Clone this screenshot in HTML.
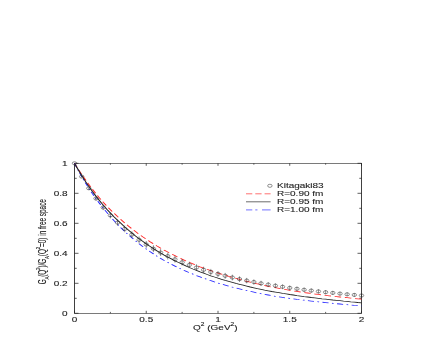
<!DOCTYPE html><html><head><meta charset="utf-8"><title>plot</title><style>html,body{margin:0;padding:0;background:#fff}svg{display:block;will-change:transform}text{font-family:"Liberation Sans",sans-serif;fill:#222;stroke:#222;stroke-width:0.1px}</style></head><body>
<svg width="436" height="354" viewBox="0 0 436 354">
<rect width="436" height="354" fill="#fff"/>
<g transform="scale(1.43,1)" fill="none">
<rect x="52.10" y="163.3" width="200.70" height="150.0" stroke="#222" stroke-width="0.6"/>
<path d="M52.10,313.3 v-2.5 M52.10,163.3 v2.5 M77.19,313.3 v-1.4 M77.19,163.3 v1.4 M102.27,313.3 v-2.5 M102.27,163.3 v2.5 M127.36,313.3 v-1.4 M127.36,163.3 v1.4 M152.45,313.3 v-2.5 M152.45,163.3 v2.5 M177.53,313.3 v-1.4 M177.53,163.3 v1.4 M202.62,313.3 v-2.5 M202.62,163.3 v2.5 M227.71,313.3 v-1.4 M227.71,163.3 v1.4 M252.80,313.3 v-2.5 M252.80,163.3 v2.5 M52.10,163.30 h2.80 M252.80,163.30 h-2.80 M52.10,178.30 h1.54 M252.80,178.30 h-1.54 M52.10,193.30 h2.80 M252.80,193.30 h-2.80 M52.10,208.30 h1.54 M252.80,208.30 h-1.54 M52.10,223.30 h2.80 M252.80,223.30 h-2.80 M52.10,238.30 h1.54 M252.80,238.30 h-1.54 M52.10,253.30 h2.80 M252.80,253.30 h-2.80 M52.10,268.30 h1.54 M252.80,268.30 h-1.54 M52.10,283.30 h2.80 M252.80,283.30 h-2.80 M52.10,298.30 h1.54 M252.80,298.30 h-1.54 M52.10,313.30 h2.80 M252.80,313.30 h-2.80" stroke="#222" stroke-width="0.6"/>
<path d="M52.10,163.3 L54.61,169.0 L57.12,174.4 L59.62,179.5 L62.13,184.5 L64.64,189.3 L67.15,193.8 L69.66,198.1 L72.17,202.2 L74.68,206.1 L77.19,209.7 L79.69,213.2 L82.20,216.6 L84.71,219.8 L87.22,222.9 L89.73,225.9 L92.24,228.8 L94.75,231.6 L97.26,234.3 L99.76,236.8 L102.27,239.2 L104.78,241.6 L107.29,243.8 L109.80,246.0 L112.31,248.1 L114.82,250.1 L117.33,252.0 L119.83,253.9 L122.34,255.7 L124.85,257.5 L127.36,259.2 L129.87,260.8 L132.38,262.4 L134.89,263.9 L137.40,265.4 L139.90,266.8 L142.41,268.1 L144.92,269.4 L147.43,270.7 L149.94,271.9 L152.45,273.1 L154.96,274.2 L157.47,275.3 L159.97,276.4 L162.48,277.4 L164.99,278.4 L167.50,279.4 L170.01,280.4 L172.52,281.3 L175.03,282.2 L177.53,283.1 L180.04,283.9 L182.55,284.7 L185.06,285.5 L187.57,286.3 L190.08,287.0 L192.59,287.7 L195.10,288.4 L197.60,289.1 L200.11,289.7 L202.62,290.3 L205.13,290.9 L207.64,291.4 L210.15,292.0 L212.66,292.5 L215.17,293.0 L217.67,293.5 L220.18,294.0 L222.69,294.4 L225.20,294.9 L227.71,295.3 L230.22,295.8 L232.73,296.2 L235.24,296.6 L237.74,297.0 L240.25,297.4 L242.76,297.7 L245.27,298.1 L247.78,298.5 L250.29,298.8 L252.80,299.2" stroke="#ff2a2a" stroke-width="0.8" stroke-dasharray="4.6,2.6"/>
<path d="M52.10,163.3 L54.61,170.1 L57.12,176.5 L59.62,182.6 L62.13,188.3 L64.64,193.7 L67.15,198.8 L69.66,203.5 L72.17,208.1 L74.68,212.4 L77.19,216.6 L79.69,220.6 L82.20,224.3 L84.71,228.0 L87.22,231.4 L89.73,234.7 L92.24,237.8 L94.75,240.8 L97.26,243.7 L99.76,246.4 L102.27,249.0 L104.78,251.5 L107.29,253.9 L109.80,256.2 L112.31,258.4 L114.82,260.5 L117.33,262.4 L119.83,264.3 L122.34,266.1 L124.85,267.9 L127.36,269.5 L129.87,271.1 L132.38,272.7 L134.89,274.1 L137.40,275.6 L139.90,276.9 L142.41,278.2 L144.92,279.5 L147.43,280.7 L149.94,281.9 L152.45,283.0 L154.96,284.1 L157.47,285.1 L159.97,286.1 L162.48,287.1 L164.99,288.0 L167.50,288.9 L170.01,289.8 L172.52,290.6 L175.03,291.4 L177.53,292.2 L180.04,293.0 L182.55,293.7 L185.06,294.4 L187.57,295.0 L190.08,295.7 L192.59,296.3 L195.10,296.9 L197.60,297.4 L200.11,298.0 L202.62,298.4 L205.13,298.9 L207.64,299.4 L210.15,299.8 L212.66,300.2 L215.17,300.7 L217.67,301.1 L220.18,301.5 L222.69,301.8 L225.20,302.2 L227.71,302.6 L230.22,303.0 L232.73,303.3 L235.24,303.7 L237.74,304.0 L240.25,304.4 L242.76,304.7 L245.27,305.0 L247.78,305.4 L250.29,305.7 L252.80,306.0" stroke="#2a2aff" stroke-width="0.8" stroke-dasharray="4.3,2.4,1.2,2.4"/>
<path d="M52.10,163.3 L54.61,169.5 L57.12,175.4 L59.62,181.1 L62.13,186.4 L64.64,191.5 L67.15,196.3 L69.66,200.8 L72.17,205.1 L74.68,209.2 L77.19,213.0 L79.69,216.7 L82.20,220.2 L84.71,223.6 L87.22,226.9 L89.73,230.0 L92.24,233.0 L94.75,235.9 L97.26,238.7 L99.76,241.3 L102.27,243.9 L104.78,246.3 L107.29,248.6 L109.80,250.9 L112.31,253.0 L114.82,255.1 L117.33,257.0 L119.83,258.9 L122.34,260.8 L124.85,262.5 L127.36,264.2 L129.87,265.9 L132.38,267.5 L134.89,269.0 L137.40,270.4 L139.90,271.9 L142.41,273.2 L144.92,274.5 L147.43,275.8 L149.94,277.0 L152.45,278.2 L154.96,279.3 L157.47,280.4 L159.97,281.4 L162.48,282.4 L164.99,283.4 L167.50,284.3 L170.01,285.2 L172.52,286.1 L175.03,287.0 L177.53,287.8 L180.04,288.6 L182.55,289.3 L185.06,290.1 L187.57,290.8 L190.08,291.5 L192.59,292.1 L195.10,292.7 L197.60,293.4 L200.11,293.9 L202.62,294.5 L205.13,295.0 L207.64,295.6 L210.15,296.1 L212.66,296.6 L215.17,297.0 L217.67,297.5 L220.18,297.9 L222.69,298.3 L225.20,298.8 L227.71,299.2 L230.22,299.6 L232.73,300.0 L235.24,300.3 L237.74,300.7 L240.25,301.1 L242.76,301.4 L245.27,301.8 L247.78,302.1 L250.29,302.5 L252.80,302.8" stroke="#222" stroke-width="0.8"/>
<g stroke="#333" stroke-width="0.45"><circle cx="52.10" cy="163.3" r="1.55"/><circle cx="57.12" cy="176.6" r="1.55"/><circle cx="62.13" cy="188.3" r="1.55"/><circle cx="67.15" cy="198.5" r="1.55"/><circle cx="72.17" cy="207.5" r="1.55"/><circle cx="77.19" cy="215.4" r="1.55"/><circle cx="82.20" cy="222.6" r="1.55"/><circle cx="87.22" cy="228.9" r="1.55"/><circle cx="92.24" cy="234.6" r="1.55"/><circle cx="97.26" cy="239.8" r="1.55"/><circle cx="102.27" cy="244.5" r="1.55"/><circle cx="107.29" cy="248.7" r="1.55"/><circle cx="112.31" cy="252.6" r="1.55"/><circle cx="117.33" cy="256.1" r="1.55"/><circle cx="122.34" cy="259.3" r="1.55"/><circle cx="127.36" cy="262.3" r="1.55"/><circle cx="132.38" cy="265.0" r="1.55"/><circle cx="137.40" cy="267.5" r="1.55"/><circle cx="142.41" cy="269.8" r="1.55"/><circle cx="147.43" cy="272.0" r="1.55"/><circle cx="152.45" cy="273.9" r="1.55"/><circle cx="157.47" cy="275.8" r="1.55"/><circle cx="162.48" cy="277.5" r="1.55"/><circle cx="167.50" cy="279.1" r="1.55"/><circle cx="172.52" cy="280.6" r="1.55"/><circle cx="177.53" cy="282.0" r="1.55"/><circle cx="182.55" cy="283.4" r="1.55"/><circle cx="187.57" cy="284.6" r="1.55"/><circle cx="192.59" cy="285.7" r="1.55"/><circle cx="197.60" cy="286.8" r="1.55"/><circle cx="202.62" cy="287.9" r="1.55"/><circle cx="207.64" cy="288.8" r="1.55"/><circle cx="212.66" cy="289.8" r="1.55"/><circle cx="217.67" cy="290.6" r="1.55"/><circle cx="222.69" cy="291.4" r="1.55"/><circle cx="227.71" cy="292.2" r="1.55"/><circle cx="232.73" cy="292.9" r="1.55"/><circle cx="237.74" cy="293.6" r="1.55"/><circle cx="242.76" cy="294.3" r="1.55"/><circle cx="247.78" cy="294.9" r="1.55"/><circle cx="252.80" cy="295.5" r="1.55"/></g>
<path d="M57.12,175.7 v1.9 M62.13,186.6 v3.4 M67.15,196.2 v4.5 M72.17,204.8 v5.3 M77.19,212.5 v5.9 M82.20,219.4 v6.3 M87.22,225.6 v6.6 M92.24,231.3 v6.8 M97.26,236.4 v6.9 M102.27,241.0 v6.9 M107.29,245.2 v6.9 M112.31,249.1 v6.9 M117.33,252.7 v6.8 M122.34,255.9 v6.7 M127.36,258.9 v6.6 M132.38,261.7 v6.5 M137.40,264.3 v6.4 M142.41,266.7 v6.3 M147.43,268.9 v6.1 M152.45,271.0 v6.0 M157.47,272.9 v5.9 M162.48,274.7 v5.7 M167.50,276.3 v5.6 M172.52,277.9 v5.4 M177.53,279.4 v5.3 M182.55,280.8 v5.2 M187.57,282.1 v5.0 M192.59,283.3 v4.9 M197.60,284.4 v4.8 M202.62,285.5 v4.7 M207.64,286.6 v4.6 M212.66,287.5 v4.4 M217.67,288.4 v4.3 M222.69,289.3 v4.2 M227.71,290.1 v4.1 M232.73,290.9 v4.0 M237.74,291.7 v3.9 M242.76,292.4 v3.8 M247.78,293.1 v3.7 M252.80,293.7 v3.6" stroke="#222" stroke-width="0.4"/>
<circle cx="188.74" cy="185.8" r="1.55" stroke="#333" stroke-width="0.45"/>
<path d="M172.03,193.8 H189.23" stroke="#ff2a2a" stroke-width="0.55" stroke-dasharray="4.4,2.1"/>
<path d="M172.03,201.8 H189.23" stroke="#222" stroke-width="0.55"/>
<path d="M172.03,209.9 H189.23" stroke="#2a2aff" stroke-width="0.55" stroke-dasharray="4.4,2.1,1.5,3.2,6,2"/>
</g>
<text transform="translate(74.5,322.1) scale(1.43,1)" text-anchor="middle" font-size="7">0</text>
<text transform="translate(146.25,322.1) scale(1.43,1)" text-anchor="middle" font-size="7">0.5</text>
<text transform="translate(218.0,322.1) scale(1.43,1)" text-anchor="middle" font-size="7">1</text>
<text transform="translate(289.75,322.1) scale(1.43,1)" text-anchor="middle" font-size="7">1.5</text>
<text transform="translate(361.5,322.1) scale(1.43,1)" text-anchor="middle" font-size="7">2</text>
<text transform="translate(67.6,165.8) scale(1.43,1)" text-anchor="end" font-size="7">1</text>
<text transform="translate(67.6,195.8) scale(1.43,1)" text-anchor="end" font-size="7">0.8</text>
<text transform="translate(67.6,225.8) scale(1.43,1)" text-anchor="end" font-size="7">0.6</text>
<text transform="translate(67.6,255.8) scale(1.43,1)" text-anchor="end" font-size="7">0.4</text>
<text transform="translate(67.6,285.8) scale(1.43,1)" text-anchor="end" font-size="7">0.2</text>
<text transform="translate(67.6,315.8) scale(1.43,1)" text-anchor="end" font-size="7">0</text>
<text transform="translate(215.3,330.4) scale(1.43,1)" text-anchor="middle" font-size="7">Q<tspan font-size="4.6" dy="-4.2">2</tspan><tspan dy="4.2"> (GeV</tspan><tspan font-size="4.6" dy="-4.2">2</tspan><tspan dy="4.2">)</tspan></text>
<g stroke="#222" stroke-width="0.22"><text transform="translate(46.30,284.22) rotate(-90) scale(1,1.72)" font-size="6.42">G</text><text transform="translate(48.80,279.53) rotate(-90) scale(1,1.25)" font-size="4.5">A</text><text transform="translate(46.30,276.76) rotate(-90) scale(1,1.72)" font-size="6.42">(Q</text><text transform="translate(39.70,269.93) rotate(-90) scale(1,1.25)" font-size="4.5">2</text><text transform="translate(46.30,267.57) rotate(-90) scale(1,1.72)" font-size="6.42">)/G</text><text transform="translate(48.80,258.95) rotate(-90) scale(1,1.25)" font-size="4.5">A</text><text transform="translate(46.30,256.19) rotate(-90) scale(1,1.72)" font-size="6.42">(Q</text><text transform="translate(39.70,249.35) rotate(-90) scale(1,1.25)" font-size="4.5">2</text><text transform="translate(46.30,247.00) rotate(-90) scale(1,1.72)" font-size="6.42">=0) in free space</text></g>
<text transform="translate(277,188.3) scale(1.43,1)" text-anchor="start" font-size="7">Kitagaki83</text>
<text transform="translate(277,196.3) scale(1.43,1)" text-anchor="start" font-size="7">R=0.90 fm</text>
<text transform="translate(277,204.3) scale(1.43,1)" text-anchor="start" font-size="7">R=0.95 fm</text>
<text transform="translate(277,212.3) scale(1.43,1)" text-anchor="start" font-size="7">R=1.00 fm</text>
</svg></body></html>
